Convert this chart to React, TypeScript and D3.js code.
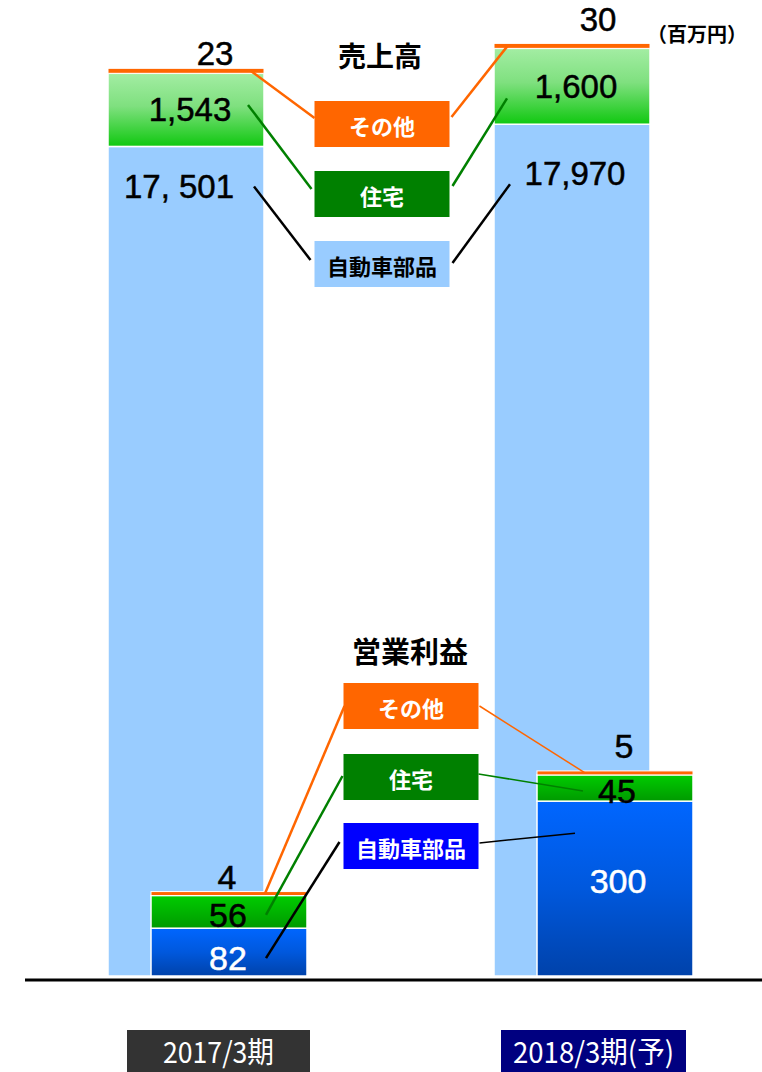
import React from "react";
import * as d3 from "d3";

const categories = ["2017/3期", "2018/3期(予)"];
const segmentNames = ["その他", "住宅", "自動車部品"];

const salesAuto = [17501, 17970];
const salesHousing = [1543, 1600];
const salesOther = [23, 30];
const salesAutoLabels = ["17, 501", "17,970"];
const salesHousingLabels = ["1,543", "1,600"];
const salesOtherLabels = ["23", "30"];

const profitAuto = [82, 300];
const profitHousing = [56, 45];
const profitOther = [4, 5];

const W = 762;
const H = 1072;
const BASE = 976;
const BAR_W = 156;
const PROFIT_SHIFT = 43;
const MIN_H = 5;

const NUM_FONT = "'Liberation Sans', Arial, Helvetica, sans-serif";
const JP_FONT = "'Noto Sans CJK JP', 'Noto Sans', sans-serif";

const ORANGE = "#FF6600";
const GREEN = "#008000";
const LIGHTBLUE = "#99CCFF";
const BLUE = "#0000FF";

export default function App() {
  const x = d3.scalePoint<string>().domain(categories).range([186, 572]);
  const ySales = d3.scaleLinear().domain([0, 20000]).range([BASE, 28]);
  const yProfit = d3.scaleLinear().domain([0, 350]).range([BASE, 772]);

  const salesStack = categories.map((c, i) => {
    const autoTop = ySales(salesAuto[i]);
    const housingTop = ySales(salesAuto[i] + salesHousing[i]);
    const otherTopRaw = ySales(salesAuto[i] + salesHousing[i] + salesOther[i]);
    const otherTop = Math.min(otherTopRaw, housingTop - MIN_H);
    return { c, cx: x(c)!, autoTop, housingTop, otherTop };
  });
  const profitStack = categories.map((c, i) => {
    const autoTop = yProfit(profitAuto[i]);
    const housingTop = yProfit(profitAuto[i] + profitHousing[i]);
    const otherTopRaw = yProfit(profitAuto[i] + profitHousing[i] + profitOther[i]);
    const otherTop = Math.min(otherTopRaw, housingTop - 4);
    return { c, cx: x(c)! + PROFIT_SHIFT, autoTop, housingTop, otherTop };
  });

  const boxW = 135;
  const boxH = 46;
  const salesBoxCx = 382;
  const salesBoxTops = [101, 171, 241];
  const profitBoxCx = 411;
  const profitBoxTops = [683, 754, 823];
  const boxFill = [ORANGE, GREEN, LIGHTBLUE];
  const boxText = ["#FFFFFF", "#FFFFFF", "#000000"];
  const profitBoxFill = [ORANGE, GREEN, BLUE];

  const otherDySales = [-15, -24];
  const otherDxSales = [29, 26];
  const otherDyProfit = [-15, -25];
  const otherDxProfit = [-2, 9];

  const s0 = salesStack[0];
  const s1 = salesStack[1];
  const p0 = profitStack[0];
  const p1 = profitStack[1];
  const sBoxL = salesBoxCx - boxW / 2;
  const sBoxR = salesBoxCx + boxW / 2;
  const pBoxL = profitBoxCx - boxW / 2;
  const pBoxR = profitBoxCx + boxW / 2;
  const mid = (t: number) => t + boxH / 2;

  const salesLeftLines = [
    [s0.cx + 64, s0.otherTop + 2, sBoxL, mid(salesBoxTops[0]) - 6],
    [s0.cx + 62, (s0.housingTop + s0.autoTop) / 2 - 5, sBoxL - 3, mid(salesBoxTops[1]) - 5],
    [s0.cx + 68, s0.autoTop + 40, sBoxL - 4, mid(salesBoxTops[2]) - 4],
  ];
  const salesRightLines = [
    [sBoxR + 2, mid(salesBoxTops[0]) - 7, s1.cx - 64, s1.otherTop + 2],
    [sBoxR + 3, mid(salesBoxTops[1]) - 8, s1.cx - 65, (s1.housingTop + s1.autoTop) / 2 + 12],
    [sBoxR + 3, mid(salesBoxTops[2]) - 1, s1.cx - 62, s1.autoTop + 60],
  ];
  const profitLeftLines = [
    [p0.cx + 36, p0.otherTop + 2, pBoxL + 1, mid(profitBoxTops[0])],
    [p0.cx + 37, (p0.housingTop + p0.autoTop) / 2 + 3, pBoxL - 1, mid(profitBoxTops[1]) - 1],
    [p0.cx + 37, (p0.autoTop + BASE) / 2 + 6, pBoxL - 4, mid(profitBoxTops[2]) - 4],
  ];
  const profitRightLines = [
    [pBoxR + 1, mid(profitBoxTops[0]), p1.cx - 30, p1.otherTop + 2],
    [pBoxR, mid(profitBoxTops[1]) - 3, p1.cx - 32, (p1.housingTop + p1.autoTop) / 2 + 3],
    [pBoxR + 1, mid(profitBoxTops[2]) - 3, p1.cx - 40, p1.autoTop + 32],
  ];

  const xLabelCx = [218.5, 593.5];
  const xLabelBoxW = [183, 185];
  const xLabelTextW = [111, 161];
  const xLabelFill = ["#333333", "#000080"];

  return (
    <svg
      width={W}
      height={H}
      viewBox={`0 0 ${W} ${H}`}
      style={{ position: "absolute", left: 0, top: 0, display: "block" }}
    >
      <defs>
        <linearGradient id="salesGreen" x1="0" y1="0" x2="0" y2="1">
          <stop offset="0" stopColor="#A3EDA3" />
          <stop offset="0.45" stopColor="#7FE07F" />
          <stop offset="1" stopColor="#10C810" />
        </linearGradient>
        <linearGradient id="profitGreen" x1="0" y1="0" x2="0" y2="1">
          <stop offset="0" stopColor="#00CC00" />
          <stop offset="1" stopColor="#009A00" />
        </linearGradient>
        <linearGradient id="profitBlue" x1="0" y1="0" x2="0" y2="1">
          <stop offset="0" stopColor="#0066FF" />
          <stop offset="0.5" stopColor="#0058DD" />
          <stop offset="1" stopColor="#0042AA" />
        </linearGradient>
      </defs>
      <rect x={0} y={0} width={W} height={H} fill="#FFFFFF" />

      {salesStack.map((s) => (
        <g key={"s" + s.c}>
          <rect x={s.cx - BAR_W / 2} y={s.autoTop} width={BAR_W} height={BASE - s.autoTop} fill={LIGHTBLUE} stroke="#FFFFFF" strokeWidth={1.5} />
          <rect x={s.cx - BAR_W / 2} y={s.housingTop} width={BAR_W} height={s.autoTop - s.housingTop} fill="url(#salesGreen)" stroke="#FFFFFF" strokeWidth={1.5} />
          <rect x={s.cx - BAR_W / 2} y={s.otherTop} width={BAR_W} height={s.housingTop - s.otherTop} fill={ORANGE} stroke="#FFFFFF" strokeWidth={1} />
        </g>
      ))}

      {profitStack.map((p) => (
        <g key={"p" + p.c}>
          <rect x={p.cx - BAR_W / 2} y={p.autoTop} width={BAR_W} height={BASE - p.autoTop} fill="url(#profitBlue)" stroke="#FFFFFF" strokeWidth={1.5} />
          <rect x={p.cx - BAR_W / 2} y={p.housingTop} width={BAR_W} height={p.autoTop - p.housingTop} fill="url(#profitGreen)" stroke="#FFFFFF" strokeWidth={1.5} />
          <rect x={p.cx - BAR_W / 2} y={p.otherTop} width={BAR_W} height={p.housingTop - p.otherTop} fill={ORANGE} stroke="#FFFFFF" strokeWidth={1} />
        </g>
      ))}

      <line x1={25} x2={W} y1={980} y2={980} stroke="#000000" strokeWidth={3} />

      {salesStack.map((s, i) => (
        <g key={"sl" + i} fontFamily={NUM_FONT} fontSize={33} fill="#000000" stroke="#000000" strokeWidth={0.5} textAnchor="middle" dominantBaseline="central">
          <text x={s.cx + otherDxSales[i]} y={s.otherTop + otherDySales[i]}>{salesOtherLabels[i]}</text>
          <text x={s.cx + 4} y={(s.housingTop + s.autoTop) / 2}>{salesHousingLabels[i]}</text>
          <text x={s.cx + (i === 0 ? -7 : 3)} y={s.autoTop + (i === 0 ? 40 : 49)}>{salesAutoLabels[i]}</text>
        </g>
      ))}

      {profitStack.map((p, i) => (
        <g key={"pl" + i} fontFamily={NUM_FONT} fontSize={34} textAnchor="middle" dominantBaseline="central" strokeWidth={0.5}>
          <text x={p.cx + otherDxProfit[i]} y={p.otherTop + otherDyProfit[i]} fill="#000000" stroke="#000000">{String(profitOther[i])}</text>
          <text x={p.cx + (i === 0 ? -1 : 2)} y={(p.housingTop + p.autoTop) / 2 + 3} fill="#000000" stroke="#000000">{String(profitHousing[i])}</text>
          <text x={p.cx + (i === 0 ? -1 : 3)} y={i === 0 ? (p.autoTop + BASE) / 2 + 6 : (p.autoTop + BASE) / 2 - 8} fill="#FFFFFF" stroke="#FFFFFF">{String(profitAuto[i])}</text>
        </g>
      ))}

      <text x={380} y={55} fontFamily={JP_FONT} fontWeight="bold" fontSize={28} textAnchor="middle" dominantBaseline="central">売上高</text>
      <text x={410} y={650} fontFamily={JP_FONT} fontWeight="bold" fontSize={29} textAnchor="middle" dominantBaseline="central">営業利益</text>
      <text x={697} y={33} fontFamily={JP_FONT} fontWeight="bold" fontSize={20} textAnchor="middle" dominantBaseline="central">（百万円）</text>

      {segmentNames.map((n, i) => (
        <g key={"sb" + i}>
          <rect x={sBoxL} y={salesBoxTops[i]} width={boxW} height={boxH} fill={boxFill[i]} />
          <text x={salesBoxCx} y={mid(salesBoxTops[i]) + 1} fontFamily={JP_FONT} fontWeight="bold" fontSize={22} fill={boxText[i]} textAnchor="middle" dominantBaseline="central">{n}</text>
        </g>
      ))}
      {segmentNames.map((n, i) => (
        <g key={"pb" + i}>
          <rect x={pBoxL} y={profitBoxTops[i]} width={boxW} height={boxH} fill={profitBoxFill[i]} />
          <text x={profitBoxCx} y={mid(profitBoxTops[i]) + 1} fontFamily={JP_FONT} fontWeight="bold" fontSize={22} fill="#FFFFFF" textAnchor="middle" dominantBaseline="central">{n}</text>
        </g>
      ))}

      {[salesLeftLines, salesRightLines, profitLeftLines].map((set, k) =>
        set.map((l, i) => (
          <line key={"c" + k + i} x1={l[0]} y1={l[1]} x2={l[2]} y2={l[3]} stroke={[ORANGE, GREEN, "#000000"][i]} strokeWidth={2.5} />
        ))
      )}
      {profitRightLines.map((l, i) => (
        <line key={"cr" + i} x1={l[0]} y1={l[1]} x2={l[2]} y2={l[3]} stroke={[ORANGE, GREEN, "#000000"][i]} strokeWidth={1.5} />
      ))}

      {categories.map((c, i) => (
        <g key={"x" + i}>
          <rect x={xLabelCx[i] - xLabelBoxW[i] / 2} y={1030} width={xLabelBoxW[i]} height={50} fill={xLabelFill[i]} />
          <text x={xLabelCx[i]} y={1063} fontFamily={JP_FONT} fontSize={29} fill="#FFFFFF" textAnchor="middle" textLength={xLabelTextW[i]} lengthAdjust="spacingAndGlyphs">{c}</text>
        </g>
      ))}
    </svg>
  );
}
